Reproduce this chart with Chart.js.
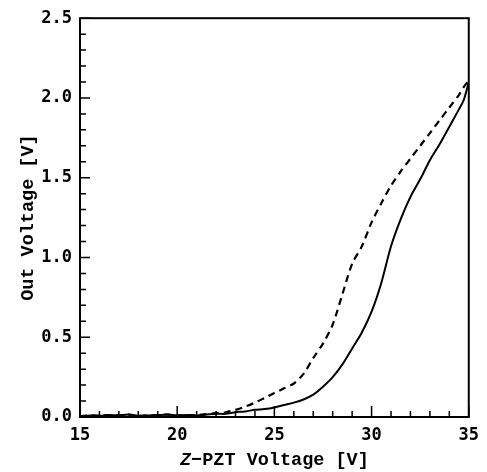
<!DOCTYPE html>
<html>
<head>
<meta charset="utf-8">
<script src="https://cdn.jsdelivr.net/npm/chart.js@4.4.1/dist/chart.umd.min.js"></script>
<style>
  html, body { margin: 0; padding: 0; background: #fff; }
  #wrap { width: 487px; height: 472px; }
</style>
</head>
<body>
<div id="wrap"><canvas id="c" width="487" height="472"></canvas></div>
<script>
// Z-PZT voltage [V]
const voltage = [15, 15.5, 16, 16.5, 17, 17.5, 18, 18.5, 19, 19.5, 20, 20.5, 21, 21.5, 22, 22.5, 23, 23.5, 24, 24.5, 25, 25.5, 26, 26.5, 27, 27.5, 28, 28.5, 29, 29.5, 30, 30.5, 31, 31.5, 32, 32.5, 33, 33.5, 34, 34.5, 34.75, 35];
// Out voltage [V], solid curve
const solidOut = [0.005, 0.01, 0.008, 0.012, 0.01, 0.015, 0.008, 0.01, 0.012, 0.015, 0.01, 0.012, 0.01, 0.015, 0.02, 0.02, 0.03, 0.035, 0.045, 0.05, 0.06, 0.075, 0.09, 0.11, 0.14, 0.19, 0.25, 0.33, 0.43, 0.53, 0.66, 0.84, 1.07, 1.24, 1.38, 1.49, 1.61, 1.71, 1.82, 1.93, 1.99, 2.1];
// Out voltage [V], dashed curve
const dashedOut = [0.005, 0.01, 0.008, 0.012, 0.01, 0.015, 0.008, 0.01, 0.012, 0.015, 0.01, 0.012, 0.012, 0.018, 0.025, 0.03, 0.045, 0.065, 0.09, 0.12, 0.15, 0.18, 0.21, 0.27, 0.37, 0.46, 0.58, 0.77, 0.96, 1.07, 1.22, 1.34, 1.45, 1.54, 1.62, 1.70, 1.78, 1.86, 1.94, 2.02, 2.07, 2.11];
// tick values
const xMajorTicks = [15, 20, 25, 30, 35];
const xMinorTicks = [16, 17, 18, 19, 21, 22, 23, 24, 26, 27, 28, 29, 31, 32, 33, 34];
const yMajorTicks = [0, 0.5, 1.0, 1.5, 2.0, 2.5];
const yMinorTicks = [0.1, 0.2, 0.3, 0.4, 0.6, 0.7, 0.8, 0.9, 1.1, 1.2, 1.3, 1.4, 1.6, 1.7, 1.8, 1.9, 2.1, 2.2, 2.3, 2.4];
const xTitleItalic = 'Z';
const xTitleRest = '\u2212PZT Voltage [V]';
const yTitle = 'Out Voltage [V]';

const toPts = (ys) => voltage.map((v, i) => ({ x: v, y: ys[i] }));

const framePlugin = {
  id: 'frame',
  afterDraw(chart) {
    const { ctx, chartArea: a, scales } = chart;
    const xs = scales.x, ys = scales.y;
    ctx.save();
    ctx.strokeStyle = '#000';
    ctx.lineWidth = 2;
    ctx.strokeRect(a.left, a.top, a.right - a.left, a.bottom - a.top);
    ctx.lineWidth = 1.5;
    ctx.beginPath();
    xMajorTicks.forEach(v => { const p = xs.getPixelForValue(v); ctx.moveTo(p, a.bottom); ctx.lineTo(p, a.bottom - 11); });
    xMinorTicks.forEach(v => { const p = xs.getPixelForValue(v); ctx.moveTo(p, a.bottom); ctx.lineTo(p, a.bottom - 6); });
    yMajorTicks.forEach(v => { const p = ys.getPixelForValue(v); ctx.moveTo(a.left, p); ctx.lineTo(a.left + 10, p); });
    yMinorTicks.forEach(v => { const p = ys.getPixelForValue(v); ctx.moveTo(a.left, p); ctx.lineTo(a.left + 6, p); });
    ctx.stroke();
    // x-axis title with italic Z
    const cx = (a.left + a.right) / 2;
    const y = 465;
    ctx.fillStyle = '#000';
    ctx.textBaseline = 'alphabetic';
    ctx.font = 'italic bold 18.5px "Liberation Mono"';
    const w1 = ctx.measureText(xTitleItalic).width;
    ctx.font = 'bold 18.5px "Liberation Mono"';
    const w2 = ctx.measureText(xTitleRest).width;
    const start = cx - (w1 + w2) / 2;
    ctx.textAlign = 'left';
    ctx.font = 'italic bold 18.5px "Liberation Mono"';
    ctx.fillText(xTitleItalic, start, y);
    ctx.font = 'bold 18.5px "Liberation Mono"';
    ctx.fillText(xTitleRest, start + w1, y);
    ctx.restore();
  }
};

const tickFont = { family: '"DejaVu Sans Mono"', size: 17, weight: 'bold' };

new Chart(document.getElementById('c'), {
  type: 'line',
  data: {
    datasets: [
      { label: 'solid', data: toPts(solidOut), borderColor: '#000', borderWidth: 2, pointRadius: 0, tension: 0.3, fill: false },
      { label: 'dashed', data: toPts(dashedOut), borderColor: '#000', borderWidth: 2.2, borderDash: [7, 5], pointRadius: 0, tension: 0.3, fill: false }
    ]
  },
  options: {
    responsive: false,
    animation: false,
    layout: { padding: { top: 15, right: 18, left: 0, bottom: 0 } },
    plugins: { legend: { display: false }, tooltip: { enabled: false } },
    scales: {
      x: {
        type: 'linear', min: 15, max: 35,
        afterFit(s) { s.height = 55; },
        border: { display: false },
        grid: { display: false, drawTicks: false },
        ticks: { stepSize: 5, color: '#000', font: tickFont, padding: 8, maxRotation: 0 }
      },
      y: {
        type: 'linear', min: 0, max: 2.5,
        afterFit(s) { s.width = 80; },
        border: { display: false },
        grid: { display: false, drawTicks: false },
        ticks: { stepSize: 0.5, color: '#000', font: tickFont, padding: 8, callback: v => v.toFixed(1) },
        title: { display: true, text: yTitle, color: '#000', font: { family: '"Liberation Mono"', size: 18.5, weight: 'bold' }, padding: { top: 17, bottom: 0 } }
      }
    }
  },
  plugins: [framePlugin]
});
</script>
</body>
</html>
